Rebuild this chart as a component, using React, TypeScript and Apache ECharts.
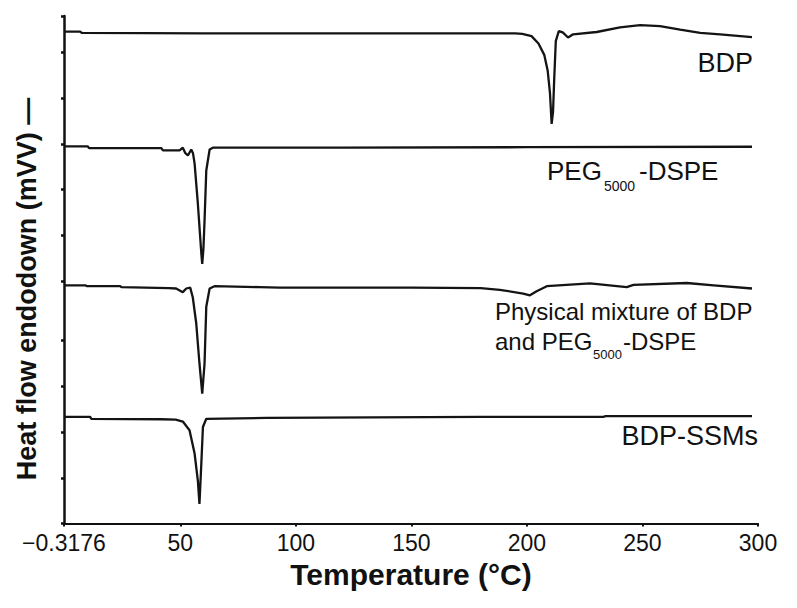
import React, { useEffect, useRef } from 'react';
import * as echarts from 'echarts';

// Temperature (°C) / heat-flow (arbitrary offset units)
const bdpT = [-0.3176, 6.5, 7.5, 60, 120, 180, 195, 198, 202, 205, 207.5, 209, 210, 210.7, 211.3, 211.8, 212.5, 213.8, 215.5, 217.8, 220, 230.2, 240.3, 249, 257.6, 266.3, 275, 283.6, 297.4];
const bdpV = [10.76, 10.76, 10.73, 10.72, 10.72, 10.72, 10.72, 10.71, 10.66, 10.5, 10.25, 9.9, 9.4, 8.74, 9.0, 9.7, 10.55, 10.77, 10.74, 10.63, 10.7, 10.75, 10.85, 10.9, 10.88, 10.8, 10.73, 10.7, 10.64];

const pegT = [-0.3176, 10, 10.5, 41.8, 42.5, 49.7, 51.1, 52.2, 53.3, 54.75, 55.5, 56.2, 57.6, 59.1, 59.5, 60.0, 60.5, 61.25, 62.7, 64.1, 120, 200, 297.4];
const pegV = [8.25, 8.25, 8.21, 8.21, 8.16, 8.16, 8.22, 8.1, 8.05, 8.18, 8.1, 7.87, 7.0, 5.91, 5.68, 6.0, 6.62, 7.72, 8.18, 8.22, 8.22, 8.23, 8.24];

const mixT = [-0.3176, 9, 9.5, 24, 24.5, 45, 48.2, 51.1, 52.6, 54.3, 55.4, 56.9, 58.3, 59.5, 60.5, 61.25, 62.7, 64.8, 84.3, 93, 150, 180, 188.3, 198.4, 201.3, 204.2, 208.6, 227.3, 243.2, 246.1, 269.2, 280.8, 297.4];
const mixV = [5.21, 5.21, 5.19, 5.19, 5.17, 5.15, 5.14, 5.06, 5.14, 5.16, 4.95, 4.38, 3.5, 2.84, 3.5, 4.74, 5.14, 5.19, 5.17, 5.16, 5.16, 5.15, 5.11, 5.03, 4.99, 5.08, 5.19, 5.25, 5.17, 5.22, 5.26, 5.21, 5.14];

const ssmT = [-0.3176, 11, 11.5, 41.8, 48, 51.1, 54.0, 56.2, 57.6, 58.3, 59.1, 59.8, 61.25, 87.2, 180, 233, 234, 297.4];
const ssmV = [2.33, 2.33, 2.29, 2.28, 2.27, 2.23, 2.04, 1.53, 0.94, 0.43, 1.3, 2.11, 2.29, 2.31, 2.33, 2.33, 2.35, 2.35];

const xTicks = [-0.3176, 50, 100, 150, 200, 250, 300];
const yTicks = [0, 1, 2, 3, 4, 5.3, 6.3, 7.3, 8.3, 9.3, 10.3, 11.1];

const xTitle = 'Temperature (°C)';
const yTitle = 'Heat flow endodown (mVV) —';

const FONT = 'Liberation Sans, Arial, Helvetica, sans-serif';
const LINE = '#141414';

function pairs(t: number[], v: number[]) {
  return t.map((x, i) => [x, v[i]]);
}

function txt(text: string, x: number, y: number, size: number, align: string, extra: any = {}) {
  return {
    type: 'text',
    x,
    y,
    silent: true,
    ...extra,
    style: {
      text,
      fill: '#111',
      fontSize: size,
      fontFamily: FONT,
      fontWeight: extra.bold ? 'bold' : 'normal',
      align,
      textAlign: align,
      verticalAlign: 'middle',
      textVerticalAlign: 'middle',
    },
  };
}

export default function App() {
  const ref = useRef<HTMLDivElement>(null);
  useEffect(() => {
    document.body.style.margin = '0';
    const chart = echarts.init(ref.current!, null, { renderer: 'svg' });
    const mkSeries = (name: string, t: number[], v: number[]) => ({
      name,
      type: 'line',
      data: pairs(t, v),
      showSymbol: false,
      symbol: 'none',
      smooth: false,
      lineStyle: { color: LINE, width: 2.3 },
      itemStyle: { color: LINE },
      emphasis: { disabled: true },
    });
    chart.setOption({
      animation: false,
      backgroundColor: '#ffffff',
      textStyle: { fontFamily: FONT },
      grid: { left: 64, right: 39, top: 16, bottom: 84.5, containLabel: false, outerBoundsMode: 'none' },
      xAxis: {
        type: 'value',
        min: -0.3176,
        max: 300,
        name: xTitle,
        nameLocation: 'middle',
        nameGap: 36,
        nameTextStyle: { fontSize: 30, fontWeight: 'bold', color: '#111', fontFamily: FONT },
        axisLine: { show: true, onZero: false, lineStyle: { color: '#111', width: 2 } },
        axisTick: { show: true, customValues: xTicks, length: 3, lineStyle: { color: '#111', width: 2 } },
        axisLabel: {
          customValues: xTicks,
          fontSize: 23,
          color: '#111',
          fontFamily: FONT,
          margin: 8,
          formatter: (v: number) => (v < 0 ? '\u22120.3176' : String(v)),
        },
        splitLine: { show: false },
      },
      yAxis: {
        type: 'value',
        min: 0,
        max: 11.1,
        axisLine: { show: true, onZero: false, lineStyle: { color: '#111', width: 2.5 } },
        axisTick: { show: true, customValues: yTicks, length: 3, lineStyle: { color: '#111', width: 2.5 } },
        axisLabel: { show: false },
        splitLine: { show: false },
      },
      series: [
        mkSeries('BDP', bdpT, bdpV),
        mkSeries('PEG5000-DSPE', pegT, pegV),
        mkSeries('Physical mixture of BDP and PEG5000-DSPE', mixT, mixV),
        mkSeries('BDP-SSMs', ssmT, ssmV),
      ],
      graphic: {
        elements: [
          txt(yTitle, 27, 289, 27, 'center', { rotation: Math.PI / 2, bold: true }),
          txt('BDP', 753, 62.5, 27, 'right'),
          txt('PEG', 547, 171, 26, 'left'),
          txt('5000', 604, 186, 14, 'left'),
          txt('-DSPE', 639, 171, 26, 'left'),
          txt('Physical mixture of BDP', 495, 311.5, 24, 'left'),
          txt('and PEG', 495, 341.5, 24, 'left'),
          txt('5000', 593, 354, 13, 'left'),
          txt('-DSPE', 623, 341.5, 24, 'left'),
          txt('BDP-SSMs', 758, 436, 27, 'right'),
        ],
      },
    });
    return () => chart.dispose();
  }, []);
  return <div ref={ref} style={{ width: 797, height: 608 }} />;
}
